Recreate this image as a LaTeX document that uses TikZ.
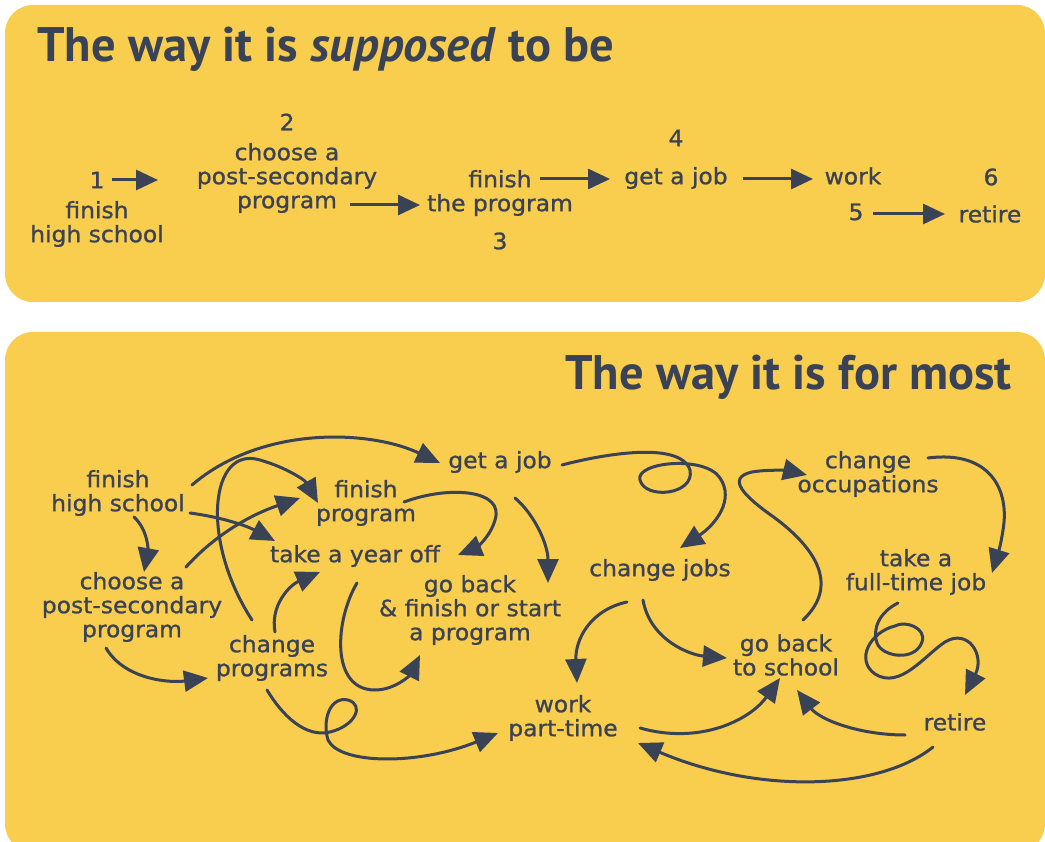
\documentclass[tikz,border=0pt]{standalone}
\usepackage{fontspec}
\setmainfont{PT Sans}
\newfontfamily\hand[FakeStretch=1.04, FakeBold=1]{DejaVu Sans}
\usetikzlibrary{arrows.meta}

\definecolor{panel}{HTML}{F9CD4E}
\definecolor{ink}{HTML}{3A4256}

\tikzset{
  phrase/.style = {text=ink, align=center, inner sep=0pt, font=\hand\fontsize{22.5}{24}\selectfont},
  heading/.style = {text=ink, inner sep=0pt, font=\fontsize{48.5}{52}\selectfont\bfseries},
  flow/.style = {draw=ink, line width=3pt, -{Triangle[length=22pt,width=20pt]}},
  curl/.style = {draw=ink, line width=3pt, line cap=round, -{Triangle[length=24pt,width=21pt]}}
}

\begin{document}
\begin{tikzpicture}[x=1pt, y=-1pt]
    \useasboundingbox (0,0) rectangle (1045,842);
    \fill [panel, rounded corners=28pt] (5,5) rectangle (1045,302);
    \fill [panel, rounded corners=28pt] (5,332) rectangle (1045,852);

    % the way it is supposed to be
    \node (top) [heading, anchor=base west] at (37,62) {The way it is \textit{supposed} to be};
    \node (n1) [phrase] at (97,180) {1};
    \node (fhsA) [phrase] at (97,224) {finish\\high school};
    \node (n2) [phrase] at (287,122) {2};
    \node (capA) [phrase] at (287,178) {choose a\\post-secondary\\program};
    \node (fpA) [phrase] at (500,193) {finish\\the program};
    \node (n3) [phrase] at (500,241) {3};
    \node (n4) [phrase] at (676,138) {4};
    \node (gajA) [phrase] at (676,178) {get a job};
    \node (wA) [phrase] at (853,176) {work};
    \node (n6) [phrase] at (991,177) {6};
    \node (n5) [phrase] at (856,212) {5};
    \node (retA) [phrase] at (990,214) {retire};

    \path [flow] ([shift={(15,0)}]n1.center) -- ([shift={(-129,2)}]capA.center);
    \path [flow] ([shift={(63,27)}]capA.center) -- ([shift={(-80,12)}]fpA.center);
    \path [flow] ([shift={(40,-14)}]fpA.center) -- ([shift={(-66,1)}]gajA.center);
    \path [flow] ([shift={(67,1)}]gajA.center) -- ([shift={(-40,3)}]wA.center);
    \path [flow] ([shift={(17,2)}]n5.center) -- ([shift={(-45,0)}]retA.center);

    % the way it is for most
    \node (bottom) [heading, anchor=base east] at (1012,390) {The way it is for most};
    \node (fhs) [phrase] at (118,493) {finish\\high school};
    \node (gaj) [phrase] at (500,462) {get a job};
    \node (fp) [phrase] at (366,503) {finish\\program};
    \node (tyo) [phrase] at (355,556) {take a year off};
    \node (cap) [phrase] at (132,607) {choose a\\post-secondary\\program};
    \node (gb) [phrase] at (470,610) {go back\\\& finish or start\\a program};
    \node (cp) [phrase] at (272,658) {change\\programs};
    \node (cj) [phrase] at (660,570) {change jobs};
    \node (co) [phrase] at (868,474) {change\\occupations};
    \node (tft) [phrase] at (916,572) {take a\\full-time job};
    \node (gbs) [phrase] at (786,655) {go back\\to school};
    \node (wpt) [phrase] at (563,718) {work\\part-time};
    \node (ret) [phrase] at (955,722) {retire};

    \path [curl] ([shift={(74,-8)}]fhs.center) .. controls (262,425) and (370,430) .. ([shift={(-60,1)}]gaj.center);
    \path [curl] ([shift={(72,20)}]fhs.center) .. controls (220,517) and (245,525) .. ([shift={(-80,-15)}]tyo.center);
    \path [curl] ([shift={(16,24)}]fhs.center) .. controls (148,530) and (148,550) .. ([shift={(12,-35)}]cap.center);
    \path [curl] ([shift={(54,-40)}]cap.center) .. controls (215,535) and (250,515) .. ([shift={(-66,-5)}]fp.center);
    \path [curl] ([shift={(-20,-38)}]cp.center) .. controls (200,540) and (210,445) .. (260,460)
        .. controls (285,467) and (305,480) .. ([shift={(-48,0)}]fp.center);
    \path [curl] ([shift={(3,-26)}]cp.center) .. controls (270,605) and (290,585) .. ([shift={(-35,16)}]tyo.center);
    \path [curl] ([shift={(-26,41)}]cap.center) .. controls (125,680) and (170,683) .. ([shift={(-64,20)}]cp.center);
    \path [curl] ([shift={(38,-1)}]fp.center) .. controls (450,485) and (505,490) .. (495,520)
        .. controls (490,538) and (475,548) .. ([shift={(103,-1)}]tyo.center);
    \path [curl] ([shift={(2,27)}]tyo.center) .. controls (335,620) and (330,690) .. (375,690)
        .. controls (395,690) and (410,675) .. ([shift={(-50,45)}]gb.center);
    \path [curl] ([shift={(15,36)}]gaj.center) .. controls (535,515) and (548,545) .. ([shift={(78,-27)}]gb.center);
    \path [curl] ([shift={(-5,32)}]cp.center) .. controls (282,715) and (305,738) .. (330,732)
        .. controls (355,726) and (365,705) .. (348,700) .. controls (330,696) and (322,720) .. (328,740)
        .. controls (340,765) and (420,765) .. ([shift={(-65,15)}]wpt.center);
    \path [curl] ([shift={(62,3)}]gaj.center) .. controls (600,455) and (680,440) .. (690,470)
        .. controls (695,495) and (645,500) .. (640,480) .. controls (635,462) and (705,455) .. (720,478)
        .. controls (735,500) and (715,525) .. ([shift={(20,-22)}]cj.center);
    \path [curl] ([shift={(-33,32)}]cj.center) .. controls (590,610) and (575,640) .. ([shift={(14,-35)}]wpt.center);
    \path [curl] ([shift={(-17,30)}]cj.center) .. controls (650,640) and (690,655) .. ([shift={(-59,3)}]gbs.center);
    \path [curl] ([shift={(17,-35)}]gbs.center) .. controls (840,585) and (815,548) .. (775,518)
        .. controls (745,497) and (725,478) .. (752,472) .. controls (770,469) and (790,471) .. ([shift={(-61,1)}]co.center);
    \path [curl] ([shift={(60,-16)}]co.center) .. controls (990,450) and (1010,490) .. (1003,530)
        .. controls (1000,550) and (996,560) .. ([shift={(76,1)}]tft.center);
    \path [curl] ([shift={(-18,31)}]tft.center) .. controls (880,612) and (872,628) .. (877,643)
        .. controls (882,657) and (915,662) .. (922,642) .. controls (927,628) and (905,620) .. (895,626)
        .. controls (870,632) and (855,660) .. (875,674) .. controls (900,690) and (925,655) .. (945,642)
        .. controls (968,628) and (985,655) .. ([shift={(10,-27)}]ret.center);
    \path [curl] ([shift={(-50,13)}]ret.center) .. controls (860,735) and (820,720) .. ([shift={(11,35)}]gbs.center);
    \path [curl] ([shift={(77,10)}]wpt.center) .. controls (700,745) and (750,720) .. ([shift={(-6,23)}]gbs.center);
    \path [curl] ([shift={(-22,25)}]ret.center) .. controls (880,790) and (760,795) .. ([shift={(75,25)}]wpt.center);
\end{tikzpicture}
\end{document}
